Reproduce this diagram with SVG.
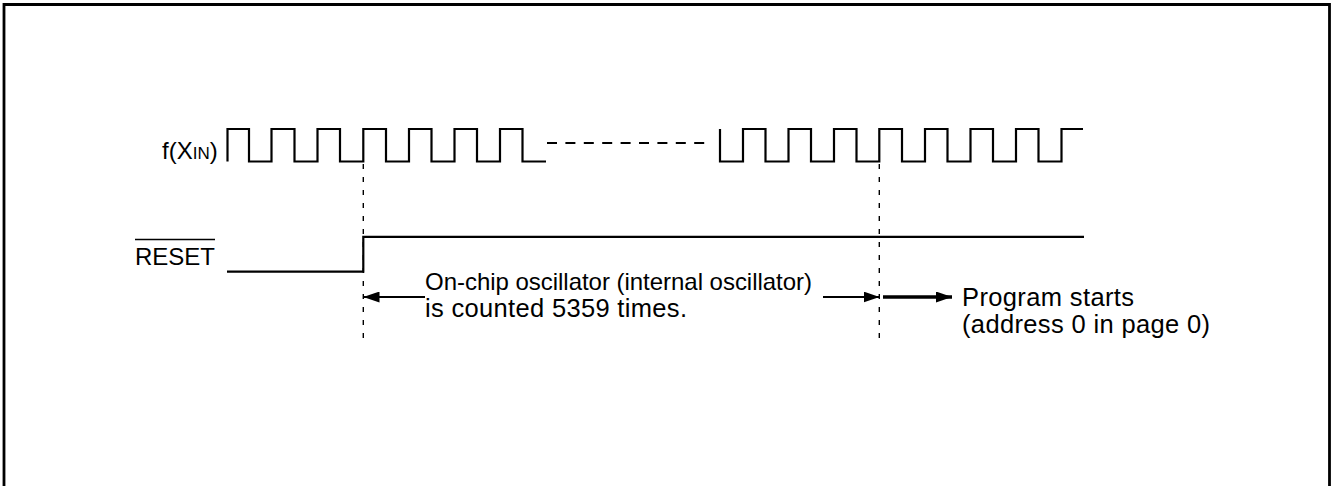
<svg xmlns="http://www.w3.org/2000/svg" width="1331" height="486" viewBox="0 0 1331 486">
  <style>
    .t { font-family: "Liberation Sans", Arial, sans-serif; font-size: 24px; fill: #000; }
    .t2 { font-family: "Liberation Sans", Arial, sans-serif; font-size: 25.5px; fill: #000; }
    .wave { fill: none; stroke: #000; stroke-width: 2.2; stroke-linejoin: miter; }
    .dash { fill: none; stroke: #000; stroke-width: 1.4; stroke-dasharray: 5 8; }
    .arr { fill: none; stroke: #000; stroke-width: 2; }
    .arrThick { fill: none; stroke: #000; stroke-width: 3.5; }
  </style>
  <defs>
    <marker id="ah" viewBox="0 0 16 11" refX="16" refY="5.5" markerWidth="16" markerHeight="11" markerUnits="userSpaceOnUse" orient="auto">
      <path d="M0,0 L16,5.5 L0,11 Z" fill="#000"/>
    </marker>
  </defs>
  <rect width="1331" height="486" fill="#fff"/>
  <path id="frame" d="M4,492 V4.5 H1329.5 V492" fill="none" stroke="#000" stroke-width="2.8"/>

  <g id="clock">
    <text class="t" x="162" y="159">f(X<tspan font-size="17">IN</tspan>)</text>
    <path class="wave" d="M227.5,161.5 V129 H249 V161.5 H271.5 V129 H294.5 V161.5 H317.5 V129 H340 V161.5 H363.3 V129 H386 V161.5 H409 V129 H431.5 V161.5 H454.5 V129 H477 V161.5 H500 V129 H522.5 V161.5 H546"/>
    <path class="wave" d="M547,143 H705" stroke-dasharray="10 8.4"/>
    <path class="wave" d="M720,129 V161.5 H743 V129 H765.5 V161.5 H788.5 V129 H811 V161.5 H834 V129 H856.5 V161.5 H879.3 V129 H902 V161.5 H925 V129 H947.5 V161.5 H970.5 V129 H993 V161.5 H1016 V129 H1038.5 V161.5 H1061.5 V129 H1083"/>
  </g>

  <g id="reset">
    <text class="t" x="135" y="265">RESET</text>
    <line x1="135" y1="239.5" x2="215" y2="239.5" stroke="#000" stroke-width="1.3"/>
    <path class="wave" d="M227,271.7 H363.3 V236.8 H1084"/>
  </g>

  <g id="count-label">
    <text class="t" x="425" y="290" textLength="387" lengthAdjust="spacing">On-chip oscillator (internal oscillator)</text>
    <text class="t2" x="425" y="317" textLength="262" lengthAdjust="spacing">is counted 5359 times.</text>
  </g>

  <g id="start-label">
    <text class="t2" x="962" y="306" textLength="172" lengthAdjust="spacing">Program starts</text>
    <text class="t2" x="962" y="333" textLength="248" lengthAdjust="spacing">(address 0 in page 0)</text>
  </g>

  <g id="connectors">
    <line class="dash" x1="363.3" y1="164" x2="363.3" y2="346"/>
    <line class="dash" x1="879.3" y1="164" x2="879.3" y2="346"/>
    <line class="arr" x1="425" y1="297" x2="363.5" y2="297" marker-end="url(#ah)"/>
    <line class="arr" x1="823" y1="297" x2="879.5" y2="297" marker-end="url(#ah)"/>
    <line class="arrThick" x1="883" y1="297" x2="952" y2="297" marker-end="url(#ah)"/>
  </g>
</svg>
